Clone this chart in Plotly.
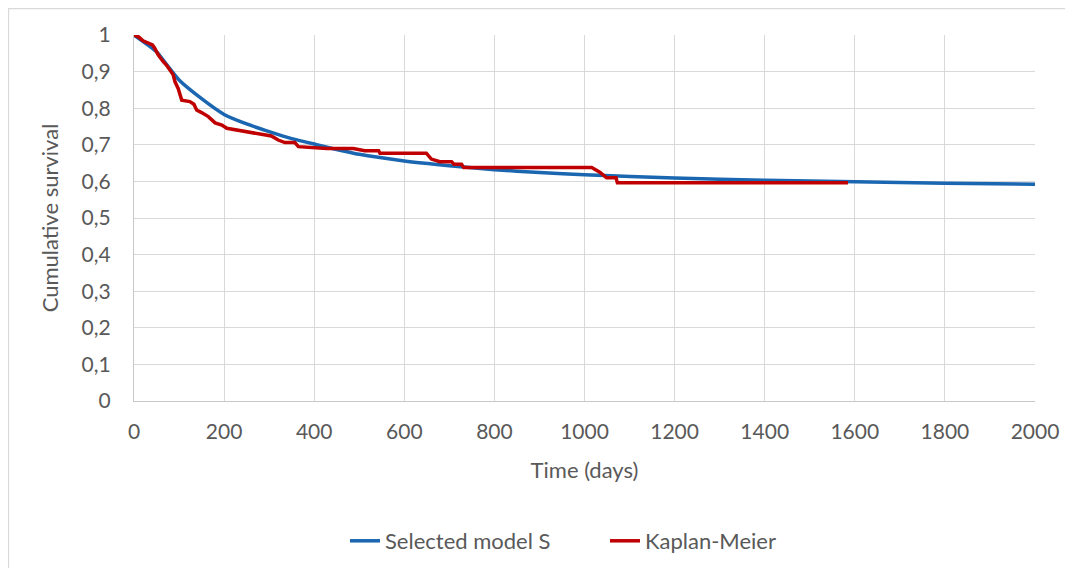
import plotly.graph_objects as go

# Selected model S (parametric survival curve)
model_t = [0, 25, 50, 75, 100, 150, 200, 250, 300, 350, 400, 500, 600, 700, 800, 900, 1000, 1200, 1400, 1600, 1800, 2000]
model_s = [1.0, 0.978, 0.954, 0.915, 0.877, 0.826, 0.783, 0.757, 0.736, 0.717, 0.702, 0.674, 0.656, 0.643, 0.632, 0.624, 0.618, 0.609, 0.603, 0.599, 0.595, 0.592]

# Kaplan-Meier estimate
km_t = [0, 10, 20, 41, 46, 54, 65, 72, 80, 87, 91, 98, 106, 124, 133, 139, 150, 165, 180, 195, 206, 243, 280, 305, 320, 335,
        357, 365, 428, 487, 512, 543, 546, 649, 660, 679, 705, 710, 727, 732, 1016, 1034, 1049, 1070, 1073, 1585]
km_s = [1.0, 0.995, 0.984, 0.973, 0.964, 0.945, 0.927, 0.918, 0.904, 0.891, 0.872, 0.854, 0.822, 0.818, 0.811, 0.795, 0.788,
        0.777, 0.760, 0.754, 0.745, 0.738, 0.729, 0.724, 0.713, 0.706, 0.706, 0.695, 0.690, 0.690, 0.684, 0.684, 0.677, 0.677,
        0.661, 0.654, 0.654, 0.647, 0.647, 0.638, 0.638, 0.625, 0.610, 0.610, 0.596, 0.596]

x_ticks = [0, 200, 400, 600, 800, 1000, 1200, 1400, 1600, 1800, 2000]
y_ticks = [0, 0.1, 0.2, 0.3, 0.4, 0.5, 0.6, 0.7, 0.8, 0.9, 1]

# figure sits at page offset (8, 8) because of the default body margin
OFF = 8
W, H = 1060, 560
PL, PR, PT, PB = 134, 1035, 35, 401          # plot area in page pixels
L, R, T, B = PL - OFF, W - (PR - OFF), PT - OFF, H - (PB - OFF)
pw, ph = W - L - R, H - T - B


def px_x(page_x):
    return (page_x - PL) / pw


def px_y(page_y):
    return (PB - page_y) / ph


fig = go.Figure()
fig.add_trace(go.Scatter(x=model_t, y=model_s, mode="lines", name="Selected model S",
                         line=dict(color="#1a66b0", width=3.5, shape="spline", smoothing=0.6)))
fig.add_trace(go.Scatter(x=km_t, y=km_s, mode="lines", name="Kaplan-Meier",
                         line=dict(color="#c00000", width=3.5)))

font_family = "Lato, Open Sans, sans-serif"
grey_text = "#595959"

fig.update_layout(
    width=W, height=H,
    margin=dict(l=L, r=R, t=T, b=B, autoexpand=False),
    paper_bgcolor="white", plot_bgcolor="white",
    separators=", ",
    font=dict(family=font_family, size=21, color=grey_text),
    showlegend=True,
    legend=dict(orientation="h", x=px_x(345), xanchor="left", y=px_y(541), yanchor="middle",
                font=dict(size=22, color=grey_text), itemwidth=30, tracegroupgap=0,
                entrywidth=215, entrywidthmode="pixels",
                bgcolor="rgba(0,0,0,0)"),
    xaxis=dict(range=[0, 2000], tickvals=x_ticks, showgrid=True, gridcolor="#d9d9d9", gridwidth=1.3,
               showline=True, linecolor="#c8c8c8", linewidth=1.3, zeroline=False, ticks="", ticklen=0,
               tickfont=dict(size=21, color=grey_text), ticklabelstandoff=12,
               title=dict(text="Time (days)", font=dict(size=22, color=grey_text), standoff=20)),
    yaxis=dict(range=[0, 1], tickvals=y_ticks, tickformat=".1~f", showgrid=True, gridcolor="#d9d9d9",
               gridwidth=1.3, showline=True, linecolor="#c8c8c8", linewidth=1.3, zeroline=False, ticks="",
               ticklen=0, tickfont=dict(size=21, color=grey_text), ticklabelstandoff=18,
               title=dict(text="Cumulative survival", font=dict(size=22, color=grey_text), standoff=16)),
    shapes=[dict(type="rect", xref="paper", yref="paper",
                 x0=px_x(8.5), x1=px_x(1100), y0=px_y(600), y1=px_y(8.5),
                 line=dict(color="#d9d9d9", width=1.3), fillcolor="rgba(0,0,0,0)", layer="below")],
)

fig.write_html("out.html")
